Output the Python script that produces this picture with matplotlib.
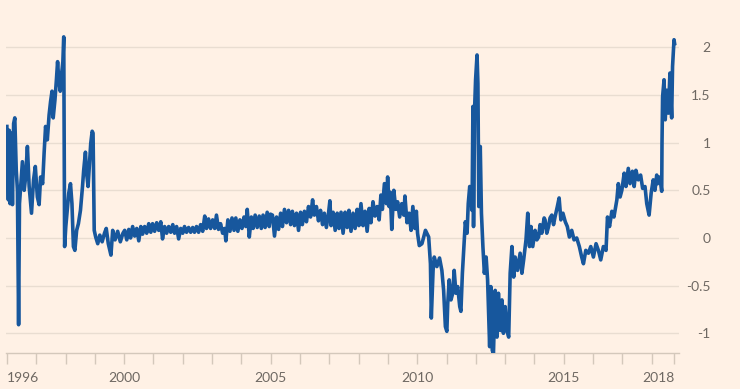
import matplotlib
matplotlib.use("Agg")
import matplotlib.pyplot as plt

# values (decimal year, value)
years = [
    1996.00, 1996.01, 1996.05, 1996.08, 1996.11, 1996.15, 1996.19, 1996.23, 1996.27, 1996.32,
    1996.36, 1996.40, 1996.43, 1996.47, 1996.53, 1996.59, 1996.64, 1996.70, 1996.76, 1996.84,
    1996.91, 1996.97, 1997.04, 1997.10, 1997.15, 1997.22, 1997.27, 1997.32, 1997.38, 1997.44,
    1997.49, 1997.54, 1997.58, 1997.64, 1997.69, 1997.73, 1997.77, 1997.82, 1997.87, 1997.91,
    1997.94, 1997.97, 1998.01, 1998.06, 1998.11, 1998.17, 1998.22, 1998.27, 1998.32, 1998.38,
    1998.44, 1998.51, 1998.58, 1998.62, 1998.68, 1998.72, 1998.77, 1998.82, 1998.86, 1998.91,
    1998.94, 1998.98, 1999.03, 1999.10, 1999.17, 1999.25, 1999.33, 1999.39, 1999.46, 1999.55,
    1999.61, 1999.69, 1999.78, 1999.87, 1999.96,
    # 2000-2005
    2000.02, 2000.09, 2000.16, 2000.22, 2000.29, 2000.36, 2000.43, 2000.50, 2000.57, 2000.63,
    2000.70, 2000.77, 2000.84, 2000.91, 2000.97, 2001.04, 2001.11, 2001.18, 2001.25, 2001.31,
    2001.38, 2001.45, 2001.52, 2001.59, 2001.66, 2001.72, 2001.79, 2001.86, 2001.93, 2002.00,
    2002.06, 2002.13, 2002.20, 2002.27, 2002.34, 2002.40, 2002.47, 2002.54, 2002.61, 2002.68,
    2002.75, 2002.81, 2002.88, 2002.95, 2003.02, 2003.09, 2003.15, 2003.22, 2003.29, 2003.36,
    2003.43, 2003.47, 2003.54, 2003.61, 2003.68, 2003.75, 2003.81, 2003.88, 2003.95, 2004.02,
    2004.09, 2004.15, 2004.20, 2004.27, 2004.34, 2004.40, 2004.47, 2004.54, 2004.61, 2004.68,
    2004.74, 2004.81, 2004.88, 2004.95, 2004.99,
    # 2005-2010
    2005.06, 2005.13, 2005.20, 2005.27, 2005.34, 2005.40, 2005.47, 2005.54, 2005.61, 2005.68,
    2005.74, 2005.81, 2005.88, 2005.95, 2006.02, 2006.08, 2006.15, 2006.22, 2006.29, 2006.36,
    2006.43, 2006.49, 2006.56, 2006.63, 2006.70, 2006.77, 2006.83, 2006.90, 2006.97, 2007.02,
    2007.06, 2007.13, 2007.20, 2007.27, 2007.33, 2007.40, 2007.47, 2007.54, 2007.61, 2007.67,
    2007.74, 2007.81, 2007.88, 2007.95, 2008.01, 2008.08, 2008.15, 2008.22, 2008.29, 2008.36,
    2008.42, 2008.49, 2008.56, 2008.63, 2008.70, 2008.76, 2008.81, 2008.88, 2008.95, 2008.99,
    2009.04, 2009.08, 2009.13, 2009.20, 2009.27, 2009.33, 2009.40, 2009.47, 2009.54, 2009.58,
    2009.65, 2009.72, 2009.79, 2009.85, 2009.92, 2009.97, 2010.01, 2010.07,
    # 2010-2013
    2010.16, 2010.28, 2010.39, 2010.45, 2010.48, 2010.54, 2010.58, 2010.67, 2010.76, 2010.84,
    2010.90, 2010.96, 2011.01,
    2011.04, 2011.09, 2011.15, 2011.21, 2011.26, 2011.32, 2011.38, 2011.45, 2011.49, 2011.54,
    2011.58, 2011.64, 2011.70, 2011.74, 2011.79, 2011.83, 2011.87, 2011.90, 2011.92, 2011.96,
    2011.99, 2012.04, 2012.07, 2012.10, 2012.15, 2012.19, 2012.24, 2012.29, 2012.35, 2012.40,
    2012.47, 2012.51, 2012.56, 2012.60, 2012.66, 2012.72, 2012.77, 2012.83, 2012.89, 2012.94,
    2013.00, 2013.06, 2013.12, 2013.17, 2013.23, 2013.29, 2013.34, 2013.42, 2013.51, 2013.57,
    2013.63, 2013.71, 2013.77, 2013.83,
    # 2013-2018
    2013.88, 2013.94, 2014.02, 2014.08, 2014.14, 2014.19, 2014.25, 2014.33, 2014.36, 2014.42,
    2014.48, 2014.53, 2014.59, 2014.65, 2014.70, 2014.78, 2014.84, 2014.90, 2014.97, 2015.05,
    2015.12, 2015.19, 2015.27, 2015.35, 2015.44, 2015.53, 2015.61, 2015.67, 2015.75, 2015.84,
    2015.92, 2016.01, 2016.10, 2016.18, 2016.26, 2016.35, 2016.44, 2016.49, 2016.56, 2016.64,
    2016.71, 2016.81, 2016.86, 2016.92, 2016.98, 2017.06, 2017.12, 2017.20, 2017.26, 2017.34,
    2017.40, 2017.46, 2017.54, 2017.62, 2017.69, 2017.77, 2017.83, 2017.91, 2017.98, 2018.05,
    2018.11, 2018.17, 2018.20, 2018.28, 2018.34,
    2018.35, 2018.37, 2018.42, 2018.46, 2018.51, 2018.57, 2018.62, 2018.68, 2018.71, 2018.76,
    2018.78,
]
values = [
    1.17, 1.03, 0.40, 1.13, 0.36, 1.10, 0.35, 1.20, 1.26, 0.71,
    0.50, -0.91, 0.36, 0.54, 0.80, 0.50, 0.64, 0.96, 0.54, 0.26,
    0.61, 0.75, 0.43, 0.35, 0.64, 0.57, 0.89, 1.17, 1.03, 1.29,
    1.43, 1.54, 1.26, 1.45, 1.66, 1.85, 1.66, 1.54, 1.73, 1.85,
    2.11, -0.09, 0.12, 0.29, 0.47, 0.57, 0.36, -0.09, -0.13, 0.08,
    0.15, 0.29, 0.54, 0.71, 0.90, 0.68, 0.54, 0.78, 0.99, 1.12,
    1.10, 0.08, 0.01, -0.06, 0.03, -0.04, 0.05, 0.10, -0.06, -0.18,
    0.08, -0.02, 0.07, -0.04, 0.05,
    # 2000-2005
    0.08, -0.02, 0.09, 0.00, 0.12, 0.02, 0.10, -0.03, 0.12, 0.04,
    0.12, 0.05, 0.15, 0.06, 0.15, 0.07, 0.16, 0.08, 0.17, -0.01,
    0.12, 0.05, 0.12, 0.06, 0.14, 0.05, 0.12, -0.01, 0.10, 0.05,
    0.12, 0.06, 0.11, 0.06, 0.11, 0.06, 0.12, 0.06, 0.14, 0.07,
    0.23, 0.10, 0.20, 0.10, 0.19, 0.10, 0.24, 0.09, 0.15, 0.05,
    0.10, -0.03, 0.19, 0.07, 0.21, 0.08, 0.21, 0.07, 0.19, 0.10,
    0.22, 0.12, 0.30, 0.01, 0.22, 0.10, 0.24, 0.11, 0.23, 0.10,
    0.24, 0.11, 0.27, 0.12, 0.25,
    # 2005-2010
    0.24, 0.02, 0.22, 0.09, 0.26, 0.12, 0.30, 0.16, 0.29, 0.14,
    0.28, 0.13, 0.26, 0.08, 0.27, 0.14, 0.28, 0.17, 0.33, 0.22,
    0.40, 0.24, 0.33, 0.18, 0.29, 0.14, 0.26, 0.11, 0.25, 0.39,
    0.13, 0.27, 0.08, 0.26, 0.10, 0.27, 0.05, 0.27, 0.11, 0.29,
    0.07, 0.26, 0.10, 0.30, 0.13, 0.36, 0.13, 0.28, 0.07, 0.31,
    0.16, 0.38, 0.23, 0.33, 0.19, 0.45, 0.30, 0.57, 0.36, 0.64,
    0.33, 0.48, 0.09, 0.50, 0.30, 0.38, 0.22, 0.36, 0.24, 0.44,
    0.16, 0.26, 0.08, 0.33, 0.10, 0.28, 0.05, -0.08,
    # 2010-2013
    -0.06, 0.08, 0.01, -0.27, -0.84, -0.34, -0.20, -0.30, -0.21, -0.34,
    -0.55, -0.93, -0.98,
    -0.69, -0.44, -0.65, -0.58, -0.34, -0.58, -0.51, -0.72, -0.77, -0.37,
    -0.16, 0.17, 0.05, 0.36, 0.54, 0.43, 0.29, 1.38, 0.12, 1.38,
    1.66, 1.92, 1.62, 0.33, 0.96, 0.26, -0.09, -0.37, -0.20, -0.44,
    -1.14, -0.51, -1.18, -1.21, -0.55, -1.04, -0.58, -0.97, -0.65, -1.00,
    -0.72, -0.97, -1.04, -0.37, -0.09, -0.41, -0.20, -0.34, -0.16, -0.37,
    -0.23, -0.02, 0.26, -0.09,
    # 2013-2018
    0.12, -0.09, 0.08, -0.02, 0.01, 0.14, 0.05, 0.21, 0.19, 0.05,
    0.12, 0.21, 0.24, 0.14, 0.22, 0.33, 0.42, 0.19, 0.26, 0.17,
    0.12, 0.01, 0.08, -0.02, 0.00, -0.09, -0.20, -0.27, -0.13, -0.16,
    -0.09, -0.20, -0.06, -0.13, -0.23, -0.09, -0.13, 0.22, 0.12, 0.28,
    0.22, 0.40, 0.57, 0.43, 0.50, 0.68, 0.54, 0.73, 0.57, 0.70,
    0.54, 0.71, 0.61, 0.66, 0.52, 0.54, 0.36, 0.24, 0.47, 0.61,
    0.50, 0.66, 0.57, 0.64, 0.49,
    0.99, 1.48, 1.66, 1.24, 1.55, 1.31, 1.73, 1.26, 1.80, 2.08,
    2.04,
]

y_ticks = [-1, -0.5, 0, 0.5, 1, 1.5, 2]
y_labels = ["-1", "-0.5", "0", "0.5", "1", "1.5", "2"]
x_major = [1996, 2000, 2005, 2010, 2015, 2018.77]
x_labels = ["1996", "2000", "2005", "2010", "2015", "2018"]
x_minor = [y for y in range(1997, 2019) if y not in (2000, 2005, 2010, 2015)]

bg = "#FFF1E5"
grid_col = "#E9DDD1"
axis_col = "#D4C8BB"
text_col = "#6E6862"
line_col = "#17579D"

plt.rcParams["font.family"] = ["Lato", "DejaVu Sans"]

fig = plt.figure(figsize=(7.4, 3.89), dpi=100, facecolor=bg)
ax = fig.add_axes([6 / 740, 35.7 / 389, 673 / 740, 325 / 389], facecolor=bg)

ax.plot(years, values, color=line_col, linewidth=2.6, solid_joinstyle="round", zorder=3)

ax.set_xlim(1995.97, 2018.93)
ax.set_ylim(-1.21, 2.2)

for s in ["top", "left", "right"]:
    ax.spines[s].set_visible(False)
ax.spines["bottom"].set_color(axis_col)
ax.spines["bottom"].set_linewidth(1)

ax.set_yticks(y_ticks)
ax.set_yticklabels(y_labels)
ax.yaxis.tick_right()
ax.tick_params(axis="y", length=0, pad=22.8, labelsize=10, labelcolor=text_col)
for lab in ax.get_yticklabels():
    lab.set_horizontalalignment("right")
ax.yaxis.grid(True, color=grid_col, linewidth=1)
ax.set_axisbelow(True)

ax.set_xticks(x_major)
ax.set_xticklabels(x_labels)
ax.set_xticks(x_minor, minor=True)
ax.tick_params(axis="x", which="both", length=8, width=1, color=axis_col,
               pad=5.5, labelsize=10, labelcolor=text_col)
xlabs = ax.get_xticklabels()
xlabs[0].set_horizontalalignment("left")
xlabs[-1].set_horizontalalignment("right")

fig.savefig("out.png", dpi=100, facecolor=bg)
